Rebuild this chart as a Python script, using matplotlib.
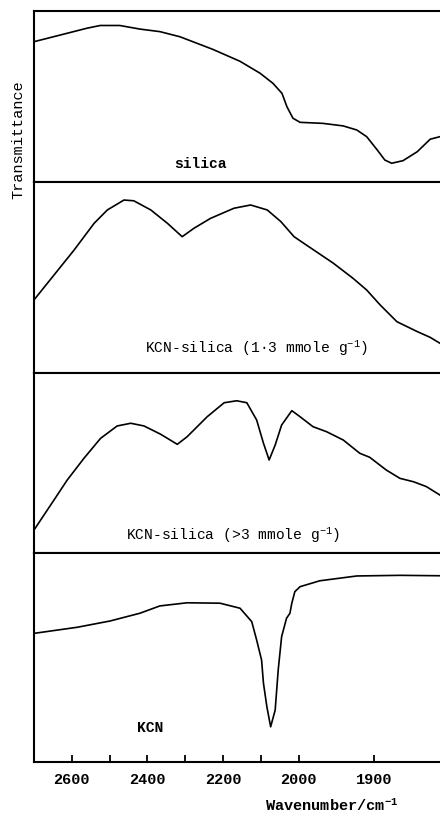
import numpy as np
import matplotlib
matplotlib.use("Agg")
import matplotlib.pyplot as plt

plt.rcParams['font.family'] = ['Liberation Mono', 'DejaVu Sans']
plt.rcParams['mathtext.fontset'] = 'custom'
plt.rcParams['mathtext.rm'] = 'Liberation Mono'
plt.rcParams['mathtext.bf'] = 'Liberation Mono:bold'
plt.rcParams['mathtext.default'] = 'rm'

# ---------------- data (wavenumber / cm-1, relative transmittance per panel) -------------
silica_wn = [2700, 2613, 2560, 2525, 2473, 2420, 2367, 2314, 2227, 2155, 2102,
             2068, 2044, 2031, 2015, 1998, 1968, 1941, 1923, 1910, 1896, 1886, 1877,
             1862, 1843, 1826, 1813]
silica_t = [82.0, 86.9, 89.9, 91.5, 91.5, 89.4, 87.9, 84.9, 77.5, 70.5, 63.5,
            57.6, 51.7, 43.9, 37.1, 34.7, 34.1, 32.6, 30.2, 26.3, 18.5, 12.6, 10.7,
            12.2, 17.5, 24.8, 26.3]

kcn13_wn = [2700, 2594, 2541, 2506, 2462, 2436, 2391, 2347, 2308, 2277, 2233, 2171,
            2127, 2083, 2047, 2012, 1993, 1954, 1928, 1910, 1892, 1870, 1843, 1826,
            1813]
kcn13_t = [38.0, 64.1, 78.1, 85.1, 90.3, 89.9, 85.1, 78.1, 71.1, 75.5, 80.7, 86.0,
           87.7, 85.1, 79.0, 71.1, 67.6, 57.2, 49.3, 43.2, 35.3, 26.6, 21.4, 18.4,
           15.3]

kcn3_wn = [2700, 2647, 2612, 2568, 2524, 2480, 2444, 2409, 2365, 2321, 2295, 2242,
           2197, 2164, 2137, 2111, 2093, 2078, 2062, 2045, 2018, 1998, 1981, 1963,
           1941, 1919, 1906, 1884, 1866, 1848, 1831, 1813]
kcn3_t = [12.5, 29.2, 40.3, 52.3, 63.4, 70.3, 71.8, 70.3, 65.7, 60.1, 64.3, 75.4,
          83.2, 84.3, 83.2, 73.6, 60.7, 51.4, 59.7, 70.8, 78.8, 75.4, 69.9, 67.1,
          62.5, 55.1, 52.9, 45.8, 41.2, 39.3, 36.6, 31.9]

kcn_wn = [2700, 2586, 2499, 2420, 2367, 2295, 2208, 2155, 2124, 2111, 2098, 2093,
          2084, 2074, 2062, 2054, 2045, 2032, 2023, 2018, 2010, 1998, 1972, 1923,
          1866, 1813]
kcn_t = [61.4, 64.3, 67.3, 71.0, 74.5, 76.0, 75.8, 73.4, 67.0, 58.2, 48.7, 37.6,
         26.4, 16.8, 24.8, 43.9, 59.8, 68.6, 71.0, 75.8, 81.3, 83.7, 86.5, 88.8,
         89.1, 88.9]

panel_labels = ["silica",
                "KCN-silica (1\u00b73 mmole g$^{-1}$)",
                "KCN-silica (>3 mmole g$^{-1}$)",
                "KCN"]

tick_values = [2600, 2500, 2400, 2300, 2200, 2100, 2000, 1900]
tick_labels = ["2600", "", "2400", "", "2200", "", "2000", "1900"]

# ---------------- layout -------------------------------------------------------------------
W, H = 440, 814
fig = plt.figure(figsize=(W / 100, H / 100), dpi=100)

left_px, right_px = 34, 440
bounds_px = [11, 181.5, 372.5, 552.5, 762]   # panel boundaries from top (pixels)


def fwd(x):
    x = np.asarray(x, dtype=float)
    return np.where(x > 2000, 2000 + (x - 2000) / 2.0, x)


def inv(u):
    u = np.asarray(u, dtype=float)
    return np.where(u > 2000, 2000 + 2.0 * (u - 2000), u)


series = [(silica_wn, silica_t), (kcn13_wn, kcn13_t), (kcn3_wn, kcn3_t), (kcn_wn, kcn_t)]
label_pos = [(0.411, 0.10, 'bold'), (0.549, 0.128, 'normal'),
             (0.490, 0.097, 'normal'), (0.286, 0.162, 'bold')]

axes = []
for i, (wn, t) in enumerate(series):
    top, bot = bounds_px[i], bounds_px[i + 1]
    ax = fig.add_axes([left_px / W, 1 - bot / H, (right_px - left_px) / W, (bot - top) / H])
    ax.set_xscale('function', functions=(fwd, inv))
    ax.set_xlim(2700, 1813)
    ax.set_ylim(0, 100)
    ax.plot(wn, t, color='black', lw=1.2, solid_joinstyle='round')
    for s in ['top', 'left', 'bottom']:
        ax.spines[s].set_linewidth(1.5)
    ax.spines['right'].set_visible(False)
    ax.set_yticks([])
    lx, ly, w = label_pos[i]
    ax.text(lx, ly, panel_labels[i], transform=ax.transAxes, ha='center', va='center',
            fontsize=10.5, fontweight=w)
    if i < 3:
        ax.set_xticks([])
    else:
        ax.set_xticks(tick_values)
        ax.set_xticklabels(tick_labels, fontweight='bold', fontsize=11)
        ax.xaxis.set_minor_locator(matplotlib.ticker.NullLocator())
        ax.tick_params(axis='x', direction='in', length=5, width=1.3, pad=8)
    axes.append(ax)

fig.text(18 / W, 1 - 140 / H, "Transmittance", rotation=90, ha='center', va='center',
         fontsize=11)
fig.text(332 / W, 1 - 806 / H, r"Wavenumber/cm$^{\mathbf{-1}}$", ha='center', va='center',
         fontsize=11, fontweight='bold')

fig.savefig("out.png", dpi=100)
